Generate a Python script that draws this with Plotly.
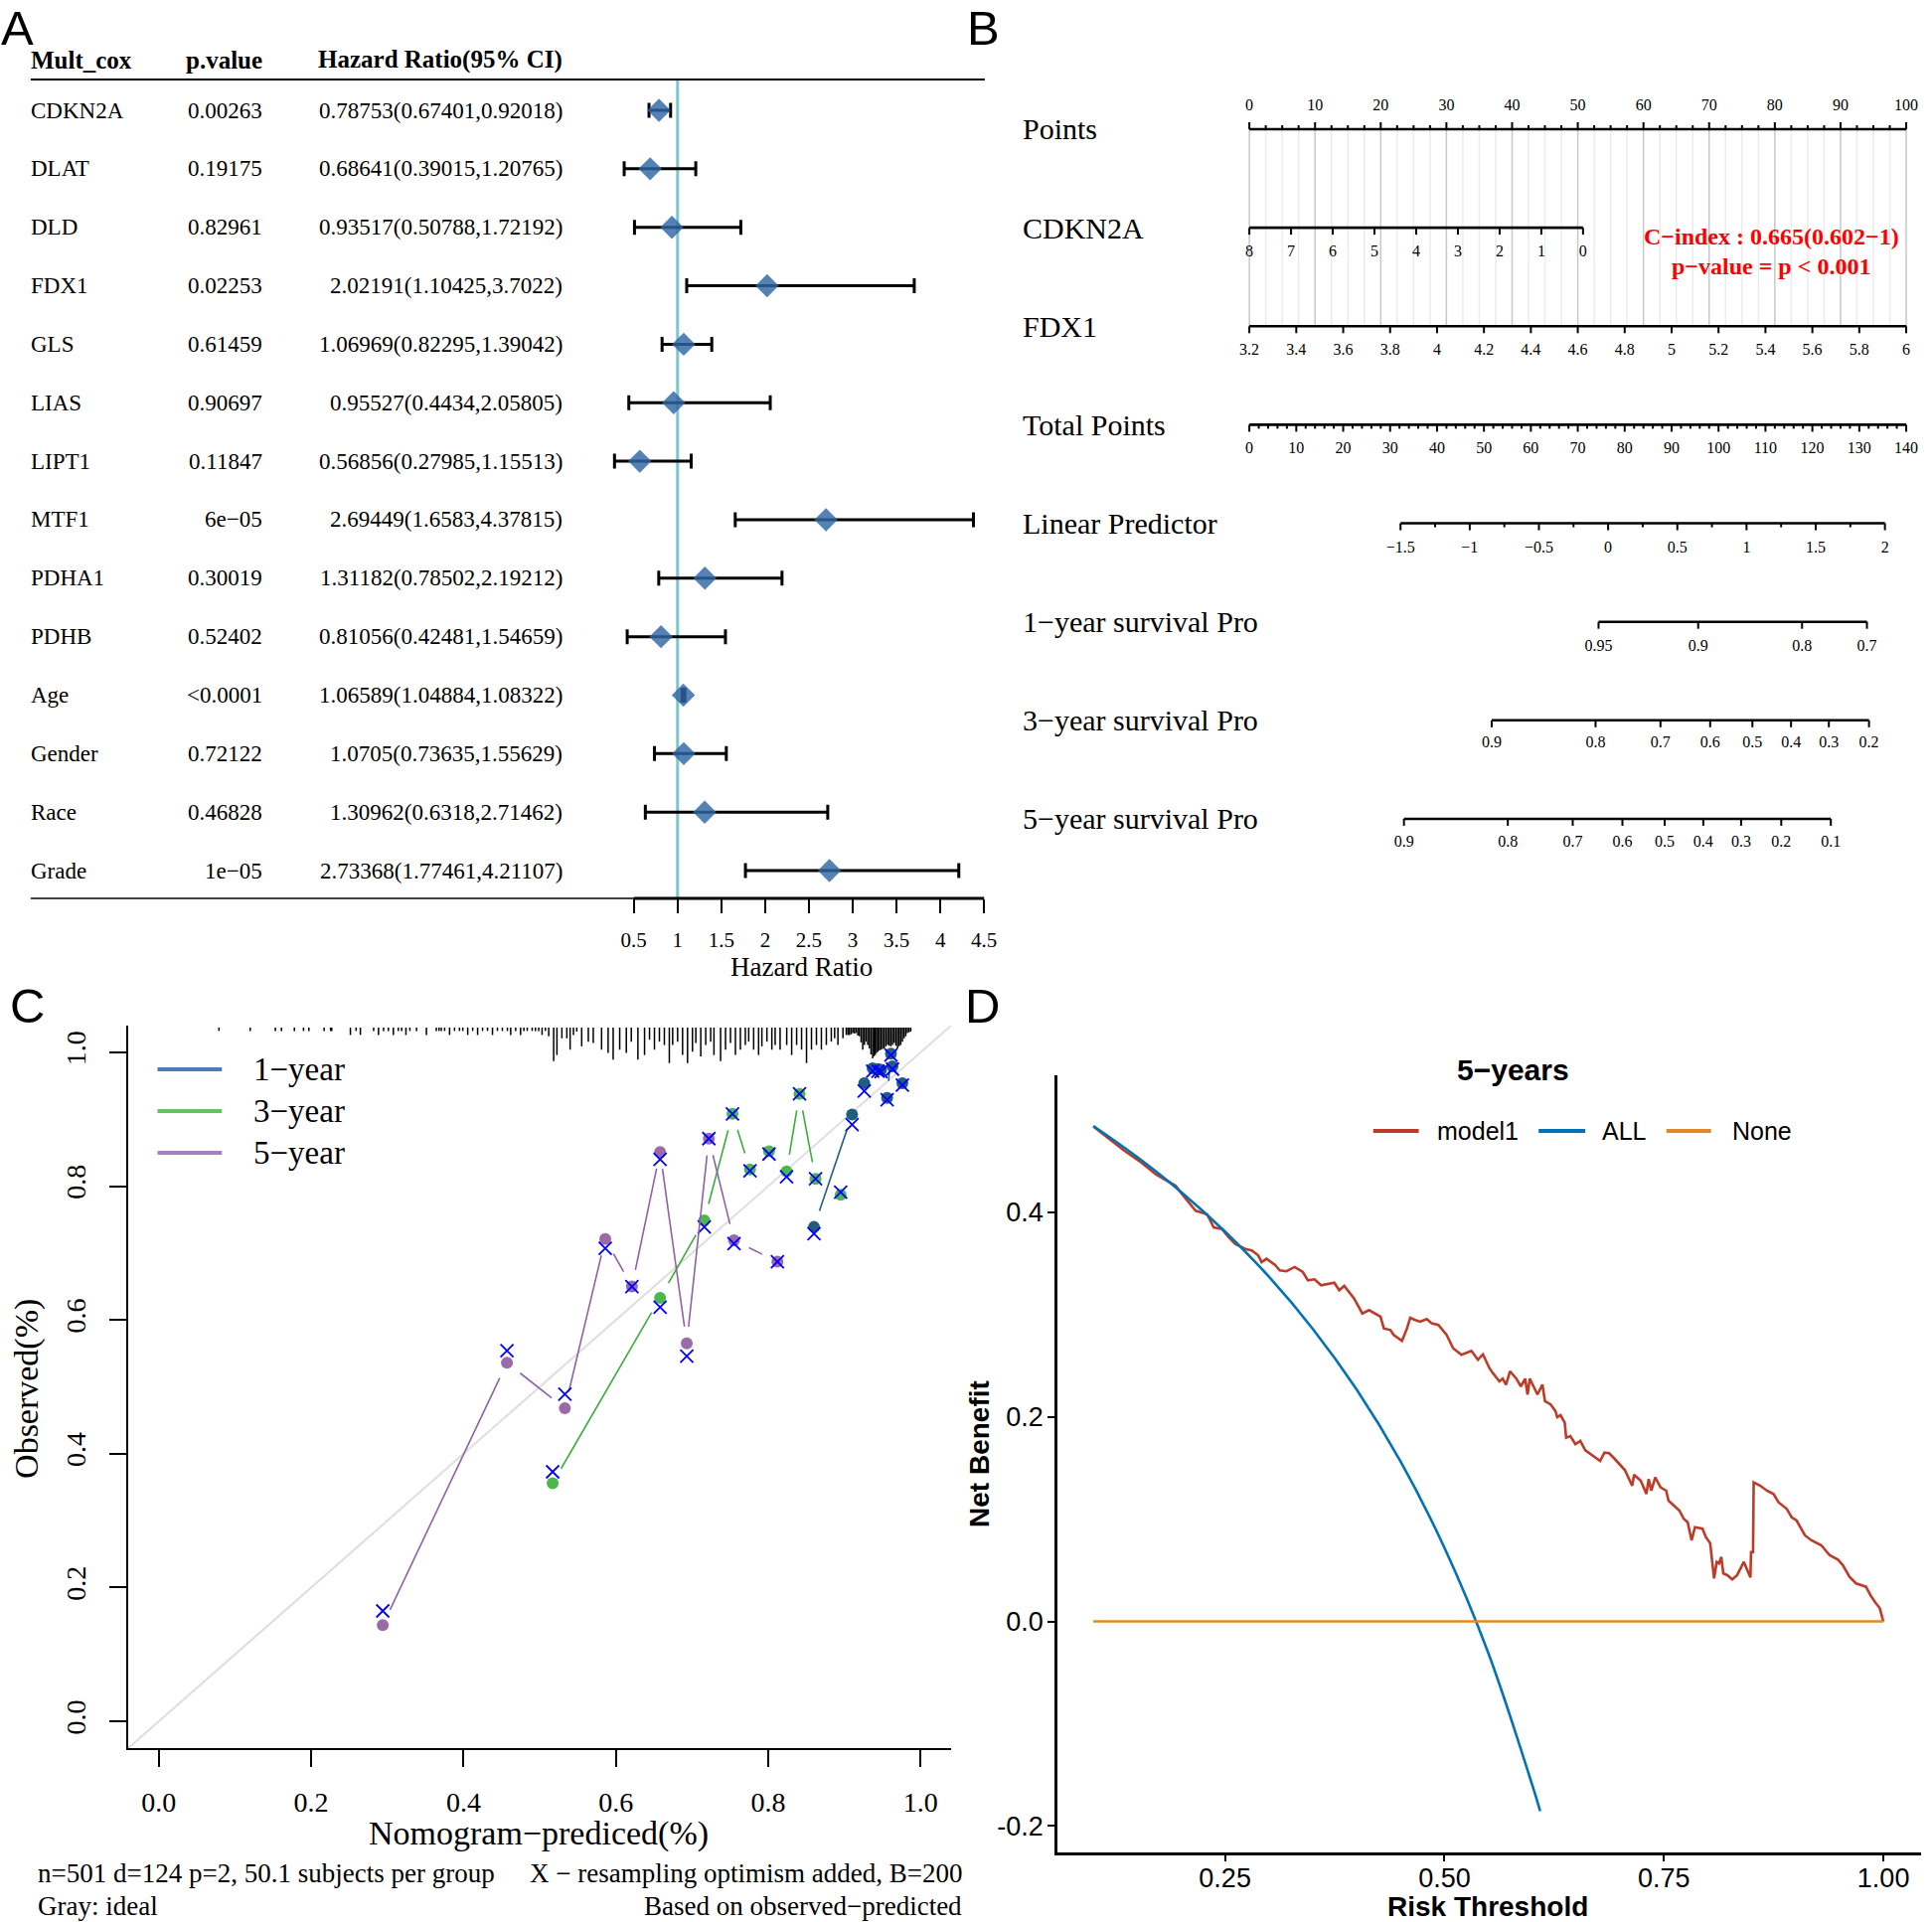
import math
import plotly.graph_objects as go

W, H = 1944, 1934
def fx(p): return p / W
def fy(p): return 1 - p / H

SERIF = "Liberation Serif, Times New Roman, serif"
SANS = "Liberation Sans, Arial, Helvetica, sans-serif"
M = "\u2212"

# ---------------- Panel A : multivariate Cox forest plot ----------------
forest_vars = ["CDKN2A", "DLAT", "DLD", "FDX1", "GLS", "LIAS", "LIPT1", "MTF1",
               "PDHA1", "PDHB", "Age", "Gender", "Race", "Grade"]
forest_p = ["0.00263", "0.19175", "0.82961", "0.02253", "0.61459", "0.90697", "0.11847",
            "6e" + M + "05", "0.30019", "0.52402", "&lt;0.0001", "0.72122", "0.46828", "1e" + M + "05"]
forest_hr = [0.78753, 0.68641, 0.93517, 2.02191, 1.06969, 0.95527, 0.56856, 2.69449,
             1.31182, 0.81056, 1.06589, 1.0705, 1.30962, 2.73368]
forest_lo = [0.67401, 0.39015, 0.50788, 1.10425, 0.82295, 0.4434, 0.27985, 1.6583,
             0.78502, 0.42481, 1.04884, 0.73635, 0.6318, 1.77461]
forest_hi = [0.92018, 1.20765, 1.72192, 3.7022, 1.39042, 2.05805, 1.15513, 4.37815,
             2.19212, 1.54659, 1.08322, 1.55629, 2.71462, 4.21107]
hr_ticks = [0.5, 1, 1.5, 2, 2.5, 3, 3.5, 4, 4.5]

# ---------------- Panel B : nomogram ----------------
nomo_labels = ["Points", "CDKN2A", "FDX1", "Total Points", "Linear Predictor",
               "1" + M + "year survival Pro", "3" + M + "year survival Pro", "5" + M + "year survival Pro"]
points_ticks = [0, 10, 20, 30, 40, 50, 60, 70, 80, 90, 100]
points_minor_step = 2.5
cdkn2a_ticks = [8, 7, 6, 5, 4, 3, 2, 1, 0]
fdx1_ticks = [3.2, 3.4, 3.6, 3.8, 4, 4.2, 4.4, 4.6, 4.8, 5, 5.2, 5.4, 5.6, 5.8, 6]
total_ticks = [0, 10, 20, 30, 40, 50, 60, 70, 80, 90, 100, 110, 120, 130, 140]
total_minor_step = 2
lp_ticks = [-1.5, -1, -0.5, 0, 0.5, 1, 1.5, 2]
lp_minor = [-1.25, -0.75, -0.25, 0.25, 0.75, 1.25, 1.75]
surv1_ticks = [0.95, 0.9, 0.8, 0.7]
surv3_ticks = [0.9, 0.8, 0.7, 0.6, 0.5, 0.4, 0.3, 0.2]
surv5_ticks = [0.9, 0.8, 0.7, 0.6, 0.5, 0.4, 0.3, 0.2, 0.1]
cdkn2a_max_points = 50.8
fdx1_range = (3.2, 6.0)
total_points_max = 140
total_points_at_lp0 = 76.47
lp_per_total_point = 0.03390
log_base_cumhaz = {1: -2.901, 3: -1.409, 5: -0.775}
c_index_text = "C" + M + "index : 0.665(0.602" + M + "1)"
p_value_text = "p" + M + "value = p &lt; 0.001"

# ---------------- Panel C : calibration ----------------
cal1_pred = [0.860, 0.910, 0.926, 0.937, 0.944, 0.948, 0.956, 0.961, 0.963, 0.976]
cal1_obs = [0.739, 0.907, 0.954, 0.976, 0.975, 0.974, 0.932, 0.998, 0.979, 0.954]
cal1_cor = [0.729, 0.892, 0.942, 0.972, 0.972, 0.971, 0.929, 0.996, 0.975, 0.951]
cal3_pred = [0.517, 0.658, 0.716, 0.753, 0.776, 0.801, 0.824, 0.841, 0.862, 0.895]
cal3_obs = [0.356, 0.633, 0.749, 0.908, 0.825, 0.852, 0.822, 0.938, 0.811, 0.787]
cal3_cor = [0.373, 0.619, 0.739, 0.908, 0.823, 0.848, 0.814, 0.938, 0.811, 0.791]
cal5_pred = [0.294, 0.457, 0.533, 0.586, 0.621, 0.658, 0.693, 0.722, 0.755, 0.812]
cal5_obs = [0.144, 0.536, 0.468, 0.721, 0.650, 0.851, 0.565, 0.871, 0.719, 0.687]
cal5_cor = [0.165, 0.554, 0.489, 0.707, 0.650, 0.840, 0.546, 0.871, 0.714, 0.687]
cal_ticks = [0.0, 0.2, 0.4, 0.6, 0.8, 1.0]
# risk distribution spikes (predicted value, spike length)
rug_spikes = [
    (0.079, 0.005), (0.120, 0.005), (0.153, 0.005), (0.161, 0.005), (0.178, 0.005), (0.190, 0.005),
    (0.197, 0.005), (0.217, 0.005), (0.2255, 0.005), (0.227, 0.005), (0.2515, 0.011), (0.259, 0.005),
    (0.2646, 0.011), (0.282, 0.005), (0.2884, 0.011), (0.295, 0.005), (0.3014, 0.005), (0.3079, 0.011),
    (0.3144, 0.005), (0.3188, 0.005), (0.3244, 0.011), (0.3296, 0.005), (0.3383, 0.005), (0.3513, 0.011),
    (0.3643, 0.005), (0.3678, 0.005), (0.3708, 0.005), (0.3752, 0.005), (0.3817, 0.011), (0.3882, 0.005),
    (0.3947, 0.005), (0.399, 0.005), (0.4055, 0.011), (0.412, 0.005), (0.4185, 0.011), (0.425, 0.005),
    (0.4315, 0.005), (0.438, 0.011), (0.4445, 0.005), (0.451, 0.005), (0.4576, 0.005), (0.4619, 0.011),
    (0.4684, 0.005), (0.4749, 0.011), (0.4792, 0.005), (0.4836, 0.005), (0.4901, 0.005), (0.4944, 0.005),
    (0.4987, 0.005), (0.5031, 0.011), (0.5074, 0.005), (0.5118, 0.013), (0.5183, 0.050), (0.5226, 0.041),
    (0.5291, 0.016), (0.5356, 0.016), (0.5399, 0.033), (0.5443, 0.011), (0.5486, 0.006), (0.5551, 0.028),
    (0.5638, 0.021), (0.5703, 0.023), (0.5812, 0.033), (0.5898, 0.038), (0.5964, 0.048), (0.605, 0.033),
    (0.6137, 0.038), (0.6202, 0.021), (0.6289, 0.048), (0.6376, 0.041), (0.6441, 0.018), (0.6506, 0.033),
    (0.6571, 0.021), (0.6636, 0.026), (0.6701, 0.053), (0.6745, 0.026), (0.681, 0.021), (0.6875, 0.041),
    (0.694, 0.053), (0.7005, 0.036), (0.7049, 0.023), (0.7114, 0.043), (0.7179, 0.026), (0.7244, 0.021),
    (0.7287, 0.041), (0.7374, 0.050), (0.7439, 0.033), (0.7504, 0.023), (0.7569, 0.041), (0.7634, 0.033),
    (0.7699, 0.026), (0.7743, 0.021), (0.7808, 0.033), (0.7873, 0.041), (0.7916, 0.028), (0.7982, 0.021),
    (0.8047, 0.033), (0.809, 0.026), (0.8155, 0.033), (0.8242, 0.026), (0.8307, 0.041), (0.8372, 0.026),
    (0.8437, 0.033), (0.8502, 0.053), (0.8567, 0.033), (0.8632, 0.026), (0.8697, 0.033), (0.8762, 0.026),
    (0.8827, 0.021), (0.8871, 0.016), (0.8914, 0.026), (0.898, 0.016), (0.9023, 0.011), (0.9045, 0.011),
    (0.9066, 0.011), (0.9088, 0.010), (0.911, 0.008), (0.9132, 0.009), (0.9153, 0.008), (0.9175, 0.012),
    (0.9196, 0.013), (0.9218, 0.022), (0.924, 0.033), (0.9262, 0.026), (0.9283, 0.021), (0.9305, 0.026),
    (0.9327, 0.031), (0.9348, 0.040), (0.937, 0.046), (0.9387, 0.043), (0.9404, 0.041), (0.9421, 0.038),
    (0.9439, 0.036), (0.9459, 0.034), (0.9479, 0.033), (0.95, 0.032), (0.9522, 0.031), (0.9544, 0.028),
    (0.9566, 0.026), (0.9588, 0.027), (0.9609, 0.028), (0.9631, 0.026), (0.9653, 0.023), (0.9675, 0.027),
    (0.9696, 0.031), (0.9718, 0.028), (0.9739, 0.026), (0.9761, 0.021), (0.9783, 0.016), (0.9805, 0.013),
    (0.9826, 0.008), (0.9848, 0.007), (0.987, 0.006)]

# ---------------- Panel D : decision curve ----------------
dca_model1 = [
    (0.100, 0.484), (0.1336, 0.4615), (0.1525, 0.4502), (0.1713, 0.4372), (0.1939, 0.4259), (0.1996, 0.4194),
    (0.2165, 0.4016), (0.2296, 0.3983), (0.2371, 0.3854), (0.2465, 0.3838), (0.2541, 0.3757), (0.2616, 0.3692),
    (0.2729, 0.3643), (0.2804, 0.3628), (0.2879, 0.3579), (0.2917, 0.3514), (0.2973, 0.3546), (0.3068, 0.3488),
    (0.3124, 0.3433), (0.3199, 0.3424), (0.3293, 0.3466), (0.3387, 0.3417), (0.3444, 0.3336), (0.3519, 0.3346),
    (0.3594, 0.3288), (0.3745, 0.3313), (0.3801, 0.3239), (0.3858, 0.3281), (0.3971, 0.3157), (0.4064, 0.3012),
    (0.4140, 0.3045), (0.4271, 0.2980), (0.4309, 0.2866), (0.4384, 0.2850), (0.4422, 0.2802), (0.4516, 0.2743),
    (0.4573, 0.2866), (0.4610, 0.2970), (0.4666, 0.2948), (0.4722, 0.2931), (0.4798, 0.2957), (0.4854, 0.2915),
    (0.4930, 0.2899), (0.5024, 0.2802), (0.5099, 0.2671), (0.5193, 0.2607), (0.5306, 0.2646), (0.5381, 0.2559),
    (0.5438, 0.2613), (0.5512, 0.2477), (0.5551, 0.2429), (0.5625, 0.2348), (0.5663, 0.2374), (0.5701, 0.2316),
    (0.5746, 0.2445), (0.5814, 0.2380), (0.5870, 0.2299), (0.5919, 0.2374), (0.5946, 0.2219), (0.5972, 0.2374),
    (0.6059, 0.2219), (0.6115, 0.2316), (0.6145, 0.2154), (0.6209, 0.2122), (0.6265, 0.2056), (0.6284, 0.1998),
    (0.6322, 0.2017), (0.6370, 0.1943), (0.6386, 0.1797), (0.6434, 0.1813), (0.6491, 0.1733), (0.6547, 0.1765),
    (0.6604, 0.1674), (0.6679, 0.1626), (0.6773, 0.1570), (0.6822, 0.1651), (0.6875, 0.1645), (0.6942, 0.1587),
    (0.7055, 0.1480), (0.7138, 0.1327), (0.7160, 0.1434), (0.7236, 0.1376), (0.7300, 0.1247), (0.7326, 0.1393),
    (0.7356, 0.1279), (0.7401, 0.1408), (0.7461, 0.1311), (0.7526, 0.1279), (0.7552, 0.1182), (0.7676, 0.1085),
    (0.7725, 0.1004), (0.7770, 0.0971), (0.7815, 0.0793), (0.7853, 0.0922), (0.7939, 0.0907), (0.7977, 0.0825),
    (0.8026, 0.0767), (0.8071, 0.0421), (0.8101, 0.0582), (0.8127, 0.0567), (0.8153, 0.0631), (0.8176, 0.0469),
    (0.8221, 0.0453), (0.8278, 0.0411), (0.8334, 0.0453), (0.8410, 0.0582), (0.8485, 0.0431), (0.8492, 0.0679),
    (0.8515, 0.0679), (0.8522, 0.1360), (0.8598, 0.1327), (0.8673, 0.1279), (0.8748, 0.1247), (0.8805, 0.1165),
    (0.8899, 0.1101), (0.8955, 0.1019), (0.9011, 0.0987), (0.9106, 0.0842), (0.9181, 0.0793), (0.9293, 0.0744),
    (0.9388, 0.0647), (0.9482, 0.0605), (0.9538, 0.0550), (0.9614, 0.0436), (0.9688, 0.0372), (0.9801, 0.0339),
    (0.9858, 0.0249), (0.9914, 0.0178), (0.9959, 0.0129), (0.9989, 0.0032), (1.000, 0.000)]
dca_all_x = [0.10, 0.15, 0.20, 0.25, 0.30, 0.35, 0.40, 0.45, 0.50, 0.55, 0.60, 0.609]
dca_all_y = [0.4845, 0.4541, 0.4200, 0.3813, 0.3371, 0.2861, 0.2267, 0.1563, 0.0720, -0.0311, -0.1600, -0.1855]
dca_none_x = [0.10, 1.00]
dca_none_y = [0.0, 0.0]
dca_xticks = [0.25, 0.50, 0.75, 1.00]
dca_yticks = [-0.2, 0.0, 0.2, 0.4]

fig = go.Figure()
annotations = []
shapes = []

def ann(text, x, y, size, family=SERIF, xanchor="center", yanchor="middle", color="black",
        xref="paper", yref="paper", angle=0, borderpad=1):
    annotations.append(dict(text=text, x=x, y=y, xref=xref, yref=yref, xanchor=xanchor,
                            yanchor=yanchor, showarrow=False, textangle=angle, borderpad=borderpad,
                            font=dict(family=family, size=size, color=color)))

def pline(x0, y0, x1, y1, color="black", width=2):
    shapes.append(dict(type="line", xref="paper", yref="paper", x0=fx(x0), y0=fy(y0),
                       x1=fx(x1), y1=fy(y1), line=dict(color=color, width=width)))

# ====================== Panel A ======================
rows = list(range(len(forest_vars)))
fig.add_trace(go.Scatter(
    x=forest_hr, y=rows, xaxis="x", yaxis="y", mode="markers", hoverinfo="skip",
    marker=dict(symbol="diamond", size=18, color="rgba(47,103,163,0.82)", line=dict(width=0)),
    error_x=dict(type="data", symmetric=False,
                 array=[h - m for m, h in zip(forest_hr, forest_hi)],
                 arrayminus=[m - l for m, l in zip(forest_hr, forest_lo)],
                 color="black", thickness=3, width=7.5)))

ann("<b>Mult_cox</b>", fx(29), fy(60), 25, xanchor="left")
ann("<b>p.value</b>", fx(267), fy(60), 25, xanchor="right")
ann("<b>Hazard Ratio(95% CI)</b>", fx(570), fy(60), 25, xanchor="right")
for i, (v, p, m, l, h) in enumerate(zip(forest_vars, forest_p, forest_hr, forest_lo, forest_hi)):
    ann(v, fx(29), i, 23, xanchor="left", yref="y")
    ann(p, fx(267), i, 23, xanchor="right", yref="y")
    ann(f"{m}({l},{h})", fx(570), i, 23, xanchor="right", yref="y")
ann("Hazard Ratio", fx(809), fy(973), 27)

pline(31, 80, 994, 80, width=2)
pline(31, 904, 640, 904, width=1.3)
shapes.append(dict(type="line", xref="x", yref="paper", x0=hr_ticks[0], x1=hr_ticks[-1],
                   y0=fy(904), y1=fy(904), line=dict(color="black", width=3)))
shapes.append(dict(type="line", xref="x", yref="paper", x0=1, x1=1, y0=fy(904), y1=fy(80),
                   line=dict(color="#7cc6cd", width=3), layer="below"))

# ====================== Panel B ======================
NOMO_ROW_PX = 99.14
def roff(px): return px / NOMO_ROW_PX

def pts_from_total(tp): return tp * 100.0 / total_points_max
def total_from_lp(lp): return total_points_at_lp0 + lp / lp_per_total_point
def lp_from_surv(s, t): return math.log(-math.log(s)) - log_base_cumhaz[t]

grid_minor_x, grid_minor_y, grid_major_x, grid_major_y = [], [], [], []
npts = int(round(100 / points_minor_step))
for k in range(npts + 1):
    v = k * points_minor_step
    if abs(v % 10) < 1e-9:
        grid_major_x += [v, v, None]; grid_major_y += [0, 2, None]
    else:
        grid_minor_x += [v, v, None]; grid_minor_y += [0, 2, None]
fig.add_trace(go.Scatter(x=grid_minor_x, y=grid_minor_y, xaxis="x2", yaxis="y2", mode="lines",
                         line=dict(color="#ececec", width=1.5), hoverinfo="skip"))
fig.add_trace(go.Scatter(x=grid_major_x, y=grid_major_y, xaxis="x2", yaxis="y2", mode="lines",
                         line=dict(color="#c8c8c8", width=1.5), hoverinfo="skip"))

ax_x, ax_y, tk_x, tk_y = [], [], [], []

def fmt_num(v):
    s = f"{v:g}"
    return s.replace("-", M)

def nomo_axis(row, values, to_pts, ticks_up=False, minor_values=None, gap_px=25, texts=None):
    pts = [to_pts(v) for v in values]
    ax_x.extend([min(pts), max(pts), None]); ax_y.extend([row, row, None])
    d = -1 if ticks_up else 1
    for p in pts:
        tk_x.extend([p, p, None]); tk_y.extend([row, row + d * roff(7), None])
    for v in (minor_values or []):
        p = to_pts(v)
        tk_x.extend([p, p, None]); tk_y.extend([row, row + d * roff(4), None])
    fig.add_trace(go.Scatter(
        x=pts, y=[row + d * roff(gap_px)] * len(pts), text=texts or [fmt_num(v) for v in values],
        mode="text", textposition="middle center", xaxis="x2", yaxis="y2", hoverinfo="skip",
        textfont=dict(family=SERIF, size=16, color="black")))

pts_minor = [k * points_minor_step for k in range(npts + 1) if abs((k * points_minor_step) % 10) > 1e-9]
nomo_axis(0, points_ticks, lambda v: v, ticks_up=True, minor_values=pts_minor, gap_px=23)
nomo_axis(1, cdkn2a_ticks, lambda v: cdkn2a_max_points * (8 - v) / 8)
nomo_axis(2, fdx1_ticks, lambda v: (v - fdx1_range[0]) / (fdx1_range[1] - fdx1_range[0]) * 100)
ntot = int(total_points_max / total_minor_step)
tot_minor = [k * total_minor_step for k in range(ntot + 1) if (k * total_minor_step) % 10 != 0]
nomo_axis(3, total_ticks, pts_from_total, minor_values=tot_minor)
nomo_axis(4, lp_ticks, lambda v: pts_from_total(total_from_lp(v)), minor_values=lp_minor)
for row, t, ticks, gap in [(5, 1, surv1_ticks, 25), (6, 3, surv3_ticks, 23), (7, 5, surv5_ticks, 24)]:
    nomo_axis(row, ticks, lambda s, t=t: pts_from_total(total_from_lp(lp_from_surv(s, t))), gap_px=gap)

fig.add_trace(go.Scatter(x=ax_x, y=ax_y, xaxis="x2", yaxis="y2", mode="lines",
                         line=dict(color="black", width=2.6), hoverinfo="skip"))
fig.add_trace(go.Scatter(x=tk_x, y=tk_y, xaxis="x2", yaxis="y2", mode="lines",
                         line=dict(color="black", width=2), hoverinfo="skip"))
for i, lab in enumerate(nomo_labels):
    ann(lab, fx(1030), i, 30, xanchor="left", yref="y2")
ann("<b>" + c_index_text + "</b>", fx(1788), fy(238), 24, color="#ff0000")
ann("<b>" + p_value_text + "</b>", fx(1788), fy(268), 24, color="#ff0000")

# ====================== Panel C ======================
C_XDOM = (129.5, 960); C_YDOM = (1759, 1032); C_RANGE = (-0.04, 1.04)
PXX = (C_XDOM[1] - C_XDOM[0]) / (C_RANGE[1] - C_RANGE[0])
PXY = (C_YDOM[0] - C_YDOM[1]) / (C_RANGE[1] - C_RANGE[0])

fig.add_trace(go.Scatter(x=list(C_RANGE), y=list(C_RANGE), xaxis="x3", yaxis="y3", mode="lines",
                         line=dict(color="#dedede", width=2), hoverinfo="skip"))
rug_top = 1.037
rx, ry = [], []
for xv, ln in rug_spikes:
    rx += [xv, xv, None]; ry += [rug_top, rug_top - ln, None]
fig.add_trace(go.Scatter(x=rx, y=ry, xaxis="x3", yaxis="y3", mode="lines",
                         line=dict(color="black", width=1.5), hoverinfo="skip"))

def gapped(xs, ys, gap_px=17):
    ox, oy = [], []
    for i in range(len(xs) - 1):
        ddx, ddy = xs[i + 1] - xs[i], ys[i + 1] - ys[i]
        dpx = math.hypot(ddx * PXX, ddy * PXY)
        if dpx <= 2 * gap_px:
            continue
        f = gap_px / dpx
        ox += [xs[i] + ddx * f, xs[i + 1] - ddx * f, None]
        oy += [ys[i] + ddy * f, ys[i + 1] - ddy * f, None]
    return ox, oy

cal_series = [
    (cal1_pred, cal1_obs, cal1_cor, "#245f8c", "#1f5f7d"),
    (cal3_pred, cal3_obs, cal3_cor, "#3cad3a", "#4cb84c"),
    (cal5_pred, cal5_obs, cal5_cor, "#8e62a4", "#9a6ba8"),
]
for pred, obs, cor, lc, mc in cal_series:
    gx, gy = gapped(pred, obs)
    fig.add_trace(go.Scatter(x=gx, y=gy, xaxis="x3", yaxis="y3", mode="lines",
                             line=dict(color=lc, width=1.6), hoverinfo="skip"))
    fig.add_trace(go.Scatter(x=pred, y=obs, xaxis="x3", yaxis="y3", mode="markers",
                             marker=dict(symbol="circle", size=12, color=mc, line=dict(width=0)),
                             hoverinfo="skip"))
    fig.add_trace(go.Scatter(x=pred, y=cor, xaxis="x3", yaxis="y3", mode="markers",
                             marker=dict(symbol="x-thin-open", size=13, color="#0000ff",
                                         line=dict(width=1.8, color="#0000ff")),
                             hoverinfo="skip"))

for i, (lab, col) in enumerate([("1" + M + "year", "#4a7eb5"), ("3" + M + "year", "#66c266"),
                                ("5" + M + "year", "#a57fbe")]):
    yy = 1076 + i * 42
    pline(159, yy, 224, yy, color=col, width=4)
    ann(lab, fx(254), fy(yy), 33, xanchor="left")

ann("Observed(%)", fx(27), fy(1397), 34, angle=-90)
ann("Nomogram" + M + "prediced(%)", fx(544), fy(1845), 34)
ann("n=501 d=124 p=2, 50.1 subjects per group", fx(36), fy(1885), 27, xanchor="left")
ann("X " + M + " resampling optimism added, B=200", fx(973), fy(1885), 27, xanchor="right")
ann("Gray: ideal", fx(36), fy(1918), 27, xanchor="left")
ann("Based on observed" + M + "predicted", fx(973), fy(1918), 27, xanchor="right")

# ====================== Panel D ======================
fig.add_trace(go.Scatter(x=[p[0] for p in dca_model1], y=[p[1] for p in dca_model1],
                         xaxis="x4", yaxis="y4", mode="lines",
                         line=dict(color="#BC3C29", width=2.6), hoverinfo="skip"))
fig.add_trace(go.Scatter(x=dca_all_x, y=dca_all_y, xaxis="x4", yaxis="y4", mode="lines",
                         line=dict(color="#0072B5", width=2.6, shape="spline"), hoverinfo="skip"))
fig.add_trace(go.Scatter(x=dca_none_x, y=dca_none_y, xaxis="x4", yaxis="y4", mode="lines",
                         line=dict(color="#E18727", width=2.6), hoverinfo="skip"))

ann("<b>5" + M + "years</b>", fx(1527), fy(1076), 30, family=SANS)
for (x0, x1, tx, lab, col) in [(1386, 1432, 1448, "model1", "#BC3C29"),
                               (1553, 1600, 1615, "ALL", "#0072B5"),
                               (1682, 1727, 1746, "None", "#E18727")]:
    pline(x0, 1138, x1, 1138, color=col, width=4)
    ann(lab, fx(tx), fy(1138), 25, family=SANS, xanchor="left")
ann("<b>Net Benefit</b>", fx(988), fy(1463), 28, family=SANS, angle=-90)
ann("<b>Risk Threshold</b>", fx(1502), fy(1918), 28, family=SANS)

# ====================== Panel letters ======================
for lab, x, y, anch in [("A", 18, 0, "top"), ("B", 993, 0, "top"), ("C", 28, 1012, "middle"),
                        ("D", 992, 1012, "middle")]:
    ann(lab, fx(x), fy(y), 49, family=SANS, yanchor=anch, borderpad=0)

hidden = dict(visible=False, showgrid=False, zeroline=False)
layout = dict(
    width=W, height=H, autosize=False, margin=dict(l=0, r=0, t=0, b=0),
    paper_bgcolor="white", plot_bgcolor="white", showlegend=False,
    xaxis=dict(domain=[fx(600), fx(1000)], range=[0.5 - (639.7 - 600) / 88.4, 0.5 + (1000 - 639.7) / 88.4],
               anchor="y", tickvals=hr_ticks, ticktext=[f"{t:g}" for t in hr_ticks], ticks="outside",
               ticklen=14, tickwidth=2, tickcolor="black", showline=False, showgrid=False, zeroline=False,
               tickfont=dict(family=SERIF, size=21, color="black"), ticklabelstandoff=9),
    yaxis=dict(domain=[fy(904), fy(80)], range=[13.475, -0.527], anchor="x", **hidden),
    xaxis2=dict(domain=[fx(1000), fx(1944)], range=[-39.37, 103.02], anchor="y2", **hidden),
    yaxis2=dict(domain=[fy(900), fy(60)], range=[7.767, -0.706], anchor="x2", **hidden),
    xaxis3=dict(domain=[fx(C_XDOM[0]), fx(C_XDOM[1])], range=list(C_RANGE), anchor="y3",
                tickvals=cal_ticks, ticktext=[f"{t:.1f}" for t in cal_ticks], ticks="outside",
                ticklen=17, tickwidth=2, tickcolor="black", showline=True, linecolor="black",
                linewidth=2, showgrid=False, zeroline=False,
                tickfont=dict(family=SERIF, size=28, color="black"), ticklabelstandoff=11),
    yaxis3=dict(domain=[fy(C_YDOM[0]), fy(C_YDOM[1])], range=list(C_RANGE), anchor="x3",
                tickvals=cal_ticks, ticktext=[f"{t:.1f}" for t in cal_ticks], ticks="outside",
                ticklen=17, tickwidth=2, tickcolor="black", showline=True, linecolor="black",
                linewidth=2, showgrid=False, zeroline=False, tickangle=-90,
                tickfont=dict(family=SERIF, size=28, color="black"), ticklabelstandoff=13),
    xaxis4=dict(domain=[fx(1067.3), fx(1939)], range=[0.0591, 1.0429], anchor="y4",
                tickvals=dca_xticks, ticktext=[f"{t:.2f}" for t in dca_xticks], ticks="outside",
                ticklen=7, tickwidth=2, tickcolor="black", showline=True, linecolor="black",
                linewidth=2.5, showgrid=False, zeroline=False,
                tickfont=dict(family=SANS, size=27, color="black"), ticklabelstandoff=-7),
    yaxis4=dict(domain=[fy(1863.5), fy(1082)], range=[-0.2254, 0.5341], anchor="x4",
                tickvals=dca_yticks, ticktext=[f"{t:.1f}" for t in dca_yticks], ticks="outside",
                ticklen=7, tickwidth=2, tickcolor="black", showline=True, linecolor="black",
                linewidth=2.5, showgrid=False, zeroline=False,
                tickfont=dict(family=SANS, size=27, color="black"), ticklabelstandoff=-1),
    annotations=annotations, shapes=shapes,
)
fig.update_layout(**layout)
fig.write_html("out.html", config={"displayModeBar": False},
               post_script="document.body.style.margin='0';document.body.style.padding='0';")
